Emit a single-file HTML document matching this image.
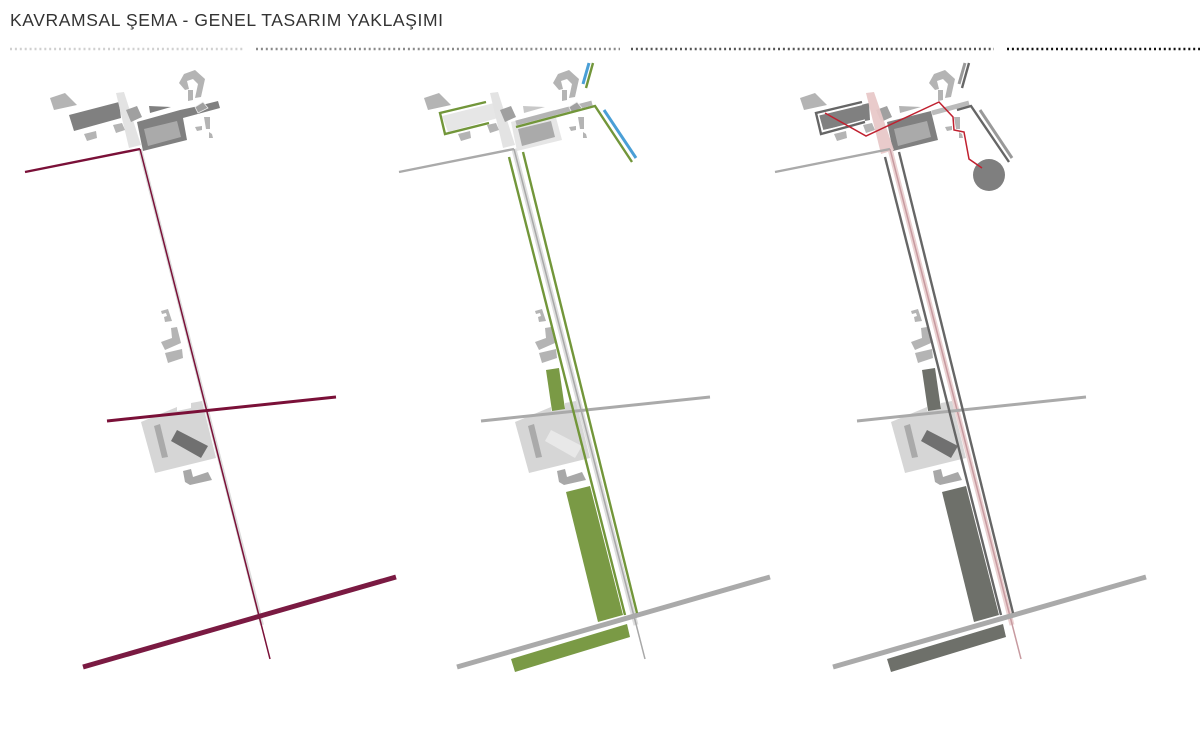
<!DOCTYPE html>
<html>
<head>
<meta charset="utf-8">
<style>
html,body{margin:0;padding:0;background:#fff;width:1200px;height:736px;overflow:hidden}
svg{display:block}
</style>
</head>
<body>
<svg width="1200" height="736" viewBox="0 0 1200 736" xmlns="http://www.w3.org/2000/svg">
<defs>
<g id="b">
  <polygon fill="#b4b4b4" points="50,98 65,93 77,105 54,110"/>
  <polygon fill="#b4b4b4" points="84,134 96,131 97,138 87,141"/>
  <polygon fill="#b4b4b4" points="179,83 184,74 195,70 205,79 201,97 195,98 198,84 193,79 187,81 189,89 185,90"/>
  <polygon fill="#b4b4b4" points="188,90 193,90 193,100 188,101"/>
  <polygon fill="#b4b4b4" points="204,117 210,117 210,129 206,129"/>
  <polygon fill="#b4b4b4" points="195,127 202,126 202,130 197,131"/>
  <polygon fill="#b4b4b4" points="209,132 212,134 213,138 209,138"/>
  <polygon fill="#b4b4b4" points="161,311 168,309 172,321 165,322 164,317 167,316 166,313 162,314"/>
  <polygon fill="#b4b4b4" points="161,342 172,338 171,328 177,327 181,343 165,350"/>
  <polygon fill="#b4b4b4" points="165,353 182,349 183,358 168,363"/>
  <polygon fill="#d6d6d6" points="141,422 177,407 177,411 191,408 191,403 202,401 216,458 155,473"/>
  <polygon fill="#aaa" points="154,426 160,424 168,457 162,458"/>
  <polygon fill="#a8a8a8" points="183,471 191,469 193,477 208,472 212,480 190,485 185,482"/>
</g>
<g id="n">
  <polygon fill="#a0a0a0" points="126,110 137,106 142,117 131,122"/>
  <polygon fill="#b4b4b4" points="113,125 122,123 125,130 116,133"/>
</g>
</defs>

<text x="10" y="26" font-family="'Liberation Sans',sans-serif" font-size="17.5" fill="#333" textLength="433" lengthAdjust="spacing">KAVRAMSAL ŞEMA - GENEL TASARIM YAKLAŞIMI</text>

<g stroke-width="2.4" stroke-dasharray="2 2.9" fill="none">
  <line x1="10" y1="49" x2="244" y2="49" stroke="#d0d0d0"/>
  <line x1="256" y1="49" x2="620" y2="49" stroke="#8a8a8a"/>
  <line x1="631" y1="49" x2="994" y2="49" stroke="#555"/>
  <line x1="1007" y1="49" x2="1200" y2="49" stroke="#111"/>
</g>

<!-- Panel 1 -->
<g>
  <use href="#b"/>
  <polygon fill="#808080" points="69,115 119,102 121,118 74,131"/>
  <polygon fill="#e3e3e3" points="116,93 124,92 141,145 129,148"/>
  <use href="#n"/>
  <polygon fill="#808080" points="149,106 171,107 150,113"/>
  <polygon fill="#808080" points="137,122 180,110 194,107 218,101 220,108 183,118 187,140 143,151"/>
  <polygon fill="#aaa" points="144,129 177,121 181,137 148,146"/>
  <polygon fill="#a0a0a0" stroke="#eee" stroke-width="0.8" points="195,107 203,102 208,108 198,113"/>
  <polygon fill="#707070" points="177,430 208,446 201,458 171,441"/>
  <line x1="140" y1="149" x2="262" y2="625" stroke="#dcdcdc" stroke-width="4"/>
  <line x1="25" y1="172" x2="140" y2="149" stroke="#7a1038" stroke-width="2.4"/>
  <line x1="140" y1="149" x2="270" y2="659" stroke="#7a1038" stroke-width="1.5"/>
  <line x1="107" y1="421" x2="336" y2="397" stroke="#7a1038" stroke-width="3"/>
  <line x1="83" y1="667" x2="396" y2="577" stroke="#7a1a42" stroke-width="5"/>
</g>

<!-- Panel 2 -->
<g transform="translate(374,0)">
  <use href="#b"/>
  <polygon fill="#e6e6e6" points="137,122 180,110 188,140 143,151"/>
  <polygon fill="#e6e6e6" points="68,116 120,103 124,118 74,132"/>
  <polygon fill="#e3e3e3" points="116,93 124,92 141,145 129,148"/>
  <use href="#n"/>
  <polygon fill="#c8c8c8" points="149,106 171,107 150,113"/>
  <line x1="142" y1="123" x2="218" y2="103" stroke="#b4b4b4" stroke-width="5"/>
  <polygon fill="#aaa" points="144,129 177,121 181,137 148,146"/>
  <polygon fill="#a0a0a0" stroke="#eee" stroke-width="0.8" points="195,107 203,102 208,108 198,113"/>
  <polygon fill="#e8e8e8" points="177,430 208,446 201,458 171,441"/>
  <line x1="140" y1="149" x2="262" y2="625" stroke="#dedede" stroke-width="5"/>
  <line x1="25" y1="172" x2="140" y2="149" stroke="#aaa" stroke-width="2.4"/>
  <line x1="140" y1="149" x2="271" y2="659" stroke="#a8a8a8" stroke-width="1.5"/>
  <line x1="107" y1="421" x2="336" y2="397" stroke="#aaa" stroke-width="3"/>
  <line x1="83" y1="667" x2="396" y2="577" stroke="#aaa" stroke-width="5"/>
  <polygon fill="#7a9a45" points="172,370 185,368 191,409 178,411"/>
  <polygon fill="#7a9a45" points="192,492 216,486 249,615 224,622"/>
  <polygon fill="#7a9a45" points="137,659 253,624 256,637 141,672"/>
  <g fill="none" stroke="#72963a" stroke-width="2.4">
    <polyline points="112,102 66,113 71,134 115,123"/>
    <polyline points="142,127 221,106 258,162"/>
    <line x1="135" y1="157" x2="251" y2="615"/>
    <line x1="149" y1="152" x2="263" y2="613"/>
    <line x1="219" y1="63" x2="212" y2="88"/>
  </g>
  <g fill="none" stroke="#4a9fd6" stroke-width="3">
    <line x1="215" y1="63" x2="209" y2="84"/>
    <line x1="230" y1="110" x2="262" y2="158"/>
  </g>
</g>

<!-- Panel 3 -->
<g transform="translate(750,0)">
  <use href="#b"/>
  <polygon fill="#808080" points="69,115 119,103 120,120 73,130"/>
  <polyline fill="none" stroke="#666" stroke-width="2.4" points="112,102 66,113 71,134 115,122"/>
  <polyline fill="none" stroke="#fff" stroke-width="1.2" points="112,104.5 68.5,115 73,131 115,120"/>
  <use href="#n"/>
  <polygon fill="#b4b4b4" points="149,106 171,107 150,113"/>
  <line x1="182" y1="113" x2="219" y2="103" stroke="#bbb" stroke-width="5"/>
  <polygon fill="#808080" points="137,122 181,111 188,140 143,151"/>
  <polygon fill="#aaa" points="144,129 177,121 181,137 148,146"/>
  <polygon fill="#e8c8c8" opacity="0.95" points="116,93 124,92 144,150 131,154"/>
  <polygon fill="#707070" points="177,430 208,446 201,458 171,441"/>
  <line x1="140" y1="149" x2="262" y2="625" stroke="#ebd2d2" stroke-width="5"/>
  <line x1="25" y1="172" x2="140" y2="149" stroke="#aaa" stroke-width="2.4"/>
  <line x1="140" y1="149" x2="271" y2="659" stroke="#c79aa0" stroke-width="1.5"/>
  <line x1="107" y1="421" x2="336" y2="397" stroke="#aaa" stroke-width="3"/>
  <line x1="83" y1="667" x2="396" y2="577" stroke="#aaa" stroke-width="5"/>
  <polygon fill="#6e706a" points="172,370 185,368 191,409 178,411"/>
  <polygon fill="#6e706a" points="192,492 216,486 249,615 224,622"/>
  <polygon fill="#6e706a" points="137,659 253,624 256,637 141,672"/>
  <g fill="none" stroke="#666" stroke-width="2.4">
    <polyline points="207,110 221,106 259,162"/>
    <line x1="135" y1="157" x2="251" y2="615"/>
    <line x1="149" y1="152" x2="263" y2="613"/>
    <line x1="219" y1="63" x2="212" y2="88"/>
  </g>
  <g fill="none" stroke="#999" stroke-width="3">
    <line x1="215" y1="63" x2="209" y2="84"/>
    <line x1="230" y1="110" x2="262" y2="158"/>
  </g>
  <circle cx="239" cy="175" r="16" fill="#7f7f7f"/>
  <polyline fill="none" stroke="#c0202f" stroke-width="1.5" points="75,113 116,136 189,102 203,117 204,130 214,132 219,159 232,168"/>
</g>
</svg>
</body>
</html>
